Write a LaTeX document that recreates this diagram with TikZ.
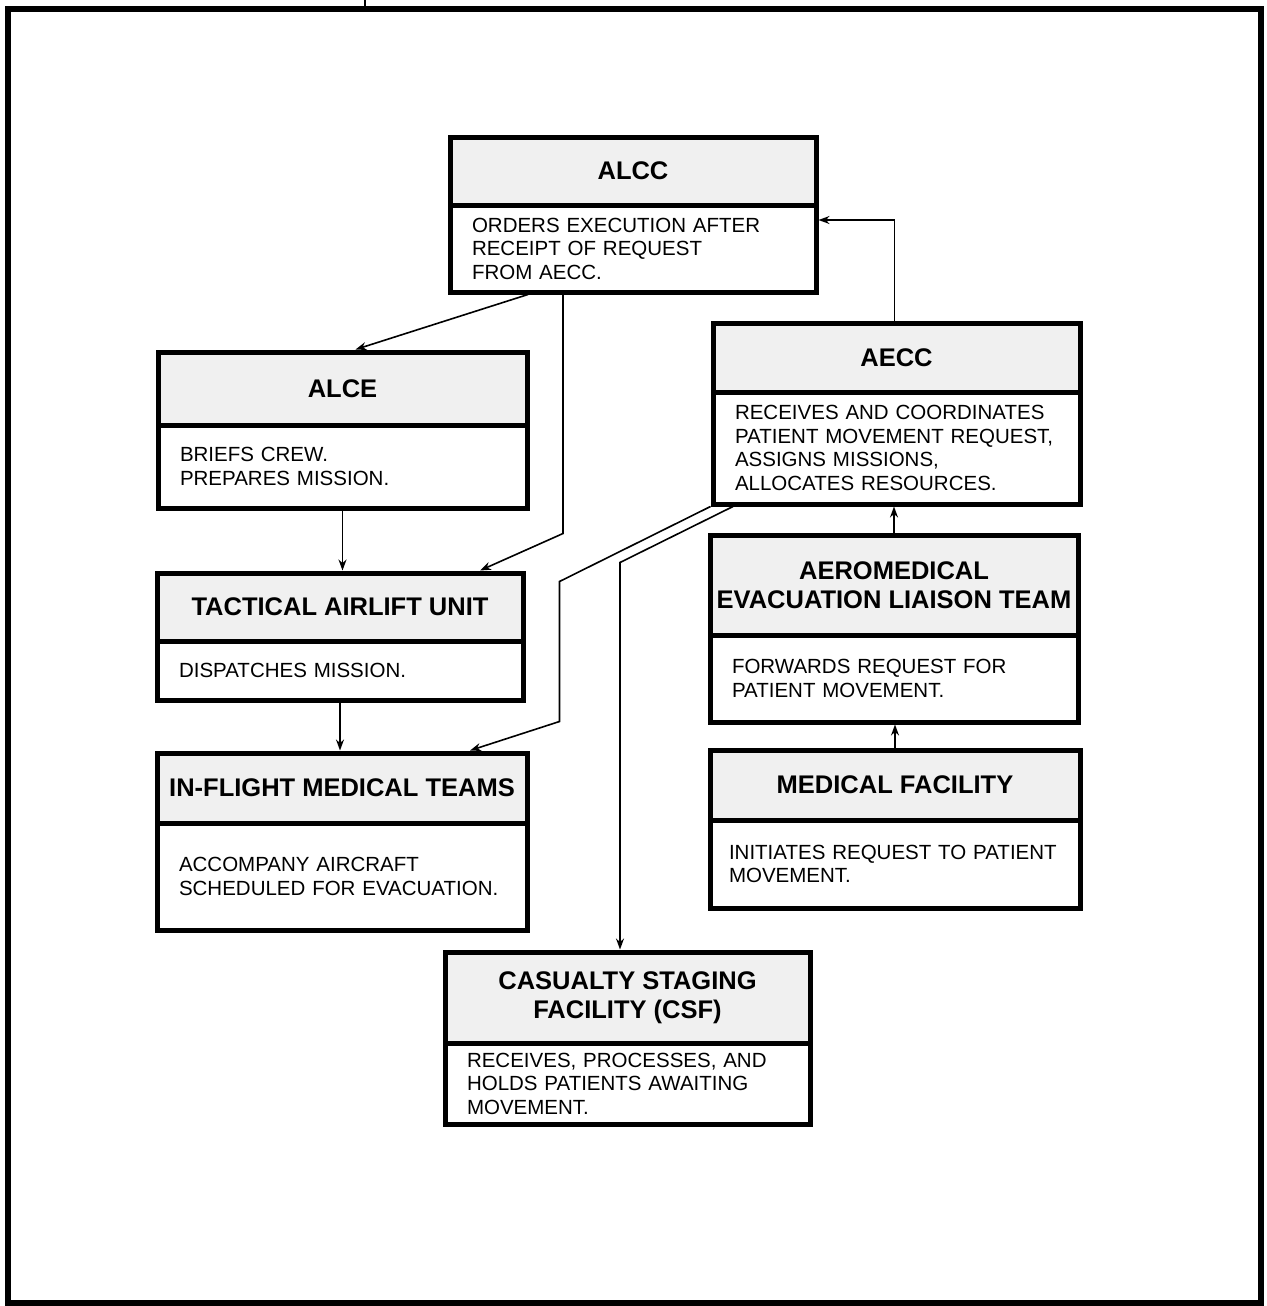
\documentclass[tikz,border=0pt]{standalone}
\usepackage{fontspec}
\setmainfont{Liberation Sans}
\usetikzlibrary{arrows.meta}
\begin{document}
\begin{tikzpicture}[x=1pt,y=-1pt,
  hdr/.style={draw, line width=5pt, fill=black!6, inner sep=2pt, align=center,
    font=\fontsize{25.5}{29}\selectfont\bfseries},
  bdy/.style={draw, line width=5pt, fill=white, inner xsep=22pt, inner ysep=2pt, align=left,
    font=\fontsize{20.5}{23.5}\selectfont},
  arr/.style={line width=1.6pt, -{Stealth[length=11pt,width=8pt]}},
  conn/.style={line width=1.6pt}]
\useasboundingbox (0,0) rectangle (1266,1306);
% outer frame
\draw[line width=6pt] (8,9) rectangle (1261,1303);
\coordinate (tickTop) at (365,0);
\coordinate (tickBot) at (365,9);
\draw[conn, line width=2pt] (tickTop) -- (tickBot);

% ALCC
\node[hdr, minimum width=366pt, minimum height=68pt] (alcc) at (633,171) {ALCC};
\node[bdy, minimum width=366pt, minimum height=87pt, text width=322pt] (alccb) at (633,248.5)
  {ORDERS EXECUTION AFTER\\RECEIPT OF REQUEST\\FROM AECC.};
% ALCE
\node[hdr, minimum width=369pt, minimum height=73pt] (alce) at (342.5,388.5) {ALCE};
\node[bdy, minimum width=369pt, minimum height=83pt, text width=325pt] (alceb) at (342.5,466.5)
  {BRIEFS CREW.\\PREPARES MISSION.};
% TAU
\node[hdr, minimum width=366pt, minimum height=68pt] (tau) at (340,607) {TACTICAL AIRLIFT UNIT};
\node[bdy, minimum width=366pt, minimum height=59pt, text width=322pt] (taub) at (340,670.5)
  {DISPATCHES MISSION.};
% IFMT
\node[hdr, minimum width=370pt, minimum height=70pt] (ifmt) at (342,788) {IN-FLIGHT MEDICAL TEAMS};
\node[bdy, minimum width=370pt, minimum height=107pt, text width=326pt] (ifmtb) at (342,876.5)
  {ACCOMPANY AIRCRAFT\\SCHEDULED FOR EVACUATION.};
% AECC
\node[hdr, minimum width=367pt, minimum height=69pt] (aecc) at (896.5,357.5) {AECC};
\node[bdy, minimum width=367pt, minimum height=112pt, text width=323pt] (aeccb) at (896.5,448)
  {RECEIVES AND COORDINATES\\PATIENT MOVEMENT REQUEST,\\ASSIGNS MISSIONS,\\ALLOCATES RESOURCES.};
% AELT
\node[hdr, minimum width=368pt, minimum height=100pt] (aelt) at (894,585) {AEROMEDICAL\\EVACUATION LIAISON TEAM};
\node[bdy, minimum width=368pt, minimum height=87pt, text width=324pt] (aeltb) at (894,678.5)
  {FORWARDS REQUEST FOR\\PATIENT MOVEMENT.};
% MF
\node[hdr, minimum width=370pt, minimum height=70pt] (mf) at (895,785) {MEDICAL FACILITY};
\node[bdy, minimum width=370pt, minimum height=88pt, inner xsep=19pt, text width=332pt] (mfb) at (895,864)
  {INITIATES REQUEST TO PATIENT\\MOVEMENT.};
% CSF
\node[hdr, minimum width=365pt, minimum height=91pt] (csf) at (627.5,997.5) {CASUALTY STAGING\\FACILITY (CSF)};
\node[bdy, minimum width=365pt, minimum height=81pt, text width=321pt] (csfb) at (627.5,1083.5)
  {RECEIVES, PROCESSES, AND\\HOLDS PATIENTS AWAITING\\MOVEMENT.};

% connectors
\draw[arr] ([xshift=-105pt]alccb.south) -- ([xshift=13pt]alce.north);
\draw[arr] ([xshift=-70pt]alccb.south) -- ++(0,239) -- ([xshift=140pt]tau.north);
\draw[arr] (alceb.south) -- (alceb.south |- tau.north);
\draw[arr] (taub.south) -- (taub.south |- ifmt.north);
\draw[arr] (aeccb.south west) -- ++(-151,75) -- ++(0,140) -- ([xshift=128pt]ifmt.north);
\draw[arr] ([xshift=-163.5pt]aeccb.south) -- ++(-113,56) -- ([xshift=-7.5pt]csf.north);
\draw[arr] (aelt.north) -- (aelt.north |- aeccb.south);
\draw[arr] (mf.north) -- (mf.north |- aeltb.south);
\draw[arr] ([xshift=-2pt]aecc.north) |- ([yshift=28.5pt]alccb.east);
\end{tikzpicture}
\end{document}
